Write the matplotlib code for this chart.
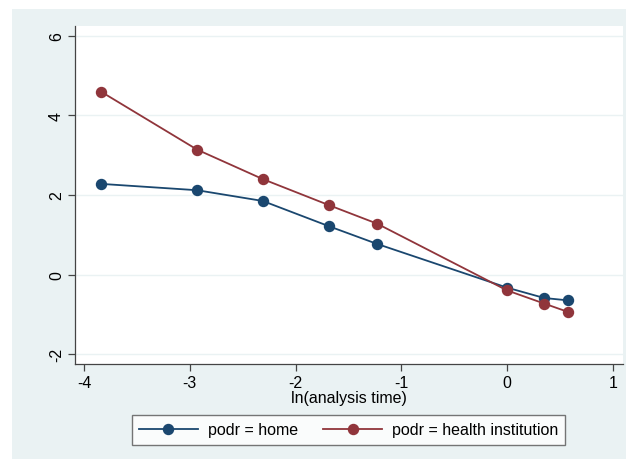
import matplotlib
matplotlib.use("Agg")
import matplotlib.pyplot as plt
from matplotlib.patches import Rectangle

plt.rcParams['font.family'] = ['Liberation Sans', 'DejaVu Sans']

# ln(analysis time) values and the two series
ln_time = [-3.84, -2.93, -2.31, -1.68, -1.23, 0.0, 0.35, 0.575]
home = [2.28, 2.12, 1.85, 1.21, 0.77, -0.33, -0.59, -0.65]
health = [4.60, 3.14, 2.40, 1.74, 1.28, -0.40, -0.73, -0.94]

x_ticks = [-4, -3, -2, -1, 0, 1]
y_ticks = [-2, 0, 2, 4, 6]

navy = '#1a476f'
maroon = '#90353b'
panel = '#eaf2f3'

W, H = 627, 460
fig = plt.figure(figsize=(W / 100, H / 100), dpi=100, facecolor='white')
fig.patches.append(Rectangle((12 / W, 0), (626 - 12) / W, (H - 10) / H,
                             transform=fig.transFigure, facecolor=panel,
                             edgecolor='none', zorder=0))

ax = fig.add_axes([75 / W, (H - 365) / H, (623 - 75) / W, (365 - 27) / H])
ax.set_facecolor('white')
ax.set_zorder(1)

for y in y_ticks:
    ax.axhline(y, color=panel, lw=1.0, zorder=0)

ax.plot(ln_time, home, color=navy, lw=1.3, marker='o', ms=7.2,
        label='podr = home', zorder=3)
ax.plot(ln_time, health, color=maroon, lw=1.3, marker='o', ms=7.2,
        label='podr = health institution', zorder=3)

ax.set_xlim(-4.085, 1.095)
ax.set_ylim(-2.25, 6.25)
ax.set_xticks(x_ticks)
ax.set_yticks(y_ticks)
ax.set_xticklabels([str(v) for v in x_ticks], fontsize=11.5)
ax.set_yticklabels([str(v) for v in y_ticks], fontsize=11.5, rotation=90,
                   va='center')
ax.tick_params(direction='out', length=5, width=0.9, color='#444444',
               pad=3)
for s in ['top', 'right']:
    ax.spines[s].set_visible(False)
for s in ['left', 'bottom']:
    ax.spines[s].set_color('#444444')
    ax.spines[s].set_linewidth(0.9)

ax.set_xlabel('ln(analysis time)', fontsize=11.5, labelpad=0)

leg = fig.legend(loc='center', bbox_to_anchor=(348.5 / W, (H - 431) / H),
                 ncol=2, fontsize=11.5, frameon=True, fancybox=False,
                 handlelength=3.7, columnspacing=1.6, handletextpad=0.6,
                 borderpad=0.45)
leg.get_frame().set_edgecolor('#555555')
leg.get_frame().set_linewidth(1.0)

fig.savefig('out.png', dpi=100, facecolor='white')
